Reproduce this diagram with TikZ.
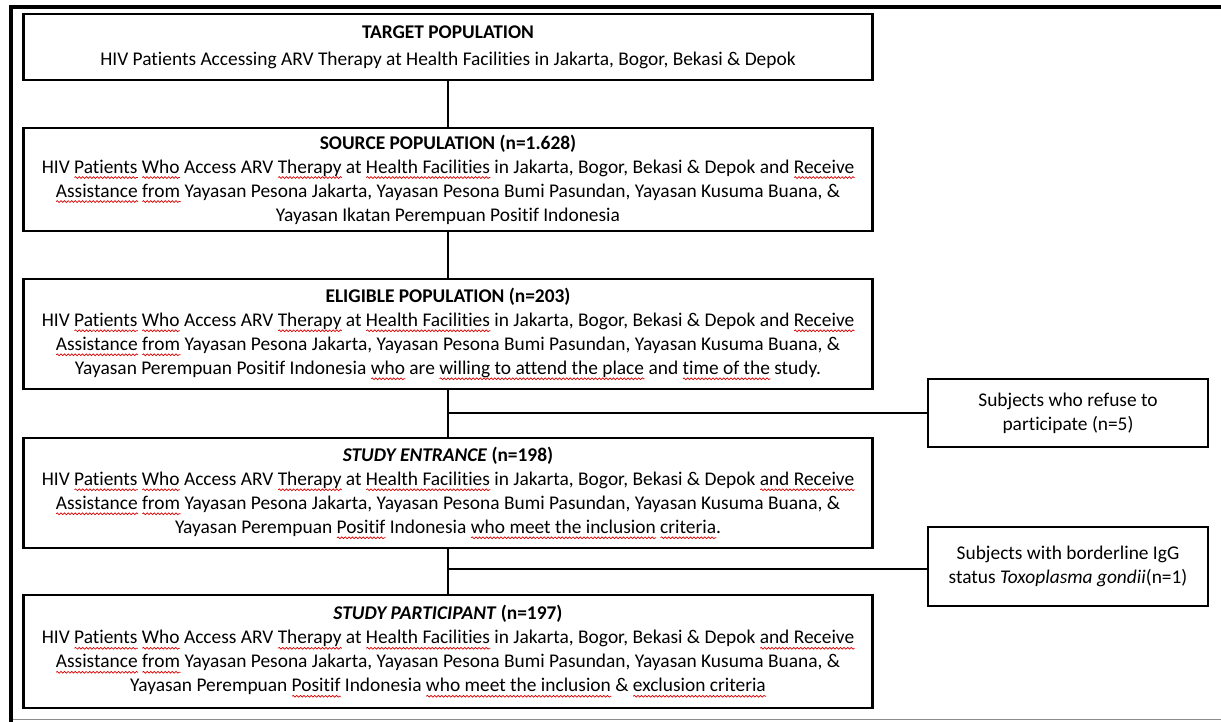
\documentclass[tikz,border=0pt]{standalone}
\usepackage{fontspec}
\setmainfont{Carlito}[Ligatures=NoCommon]
\usetikzlibrary{decorations.pathmorphing}
\newsavebox\sqbox
\newlength\sqlen
\newcommand\sq[1]{\sbox\sqbox{#1}\setlength\sqlen{\wd\sqbox}%
  \rlap{\tikz[baseline=0pt,x=1pt,y=1pt]{\draw[red!85!black, line width=0.35pt, decorate,
     decoration={snake, amplitude=0.45pt, segment length=1.8pt}] (0,-2.2) -- (\sqlen,-2.2);}}%
  \usebox\sqbox}
\tikzset{
  mainbox/.style={draw, line width=1.3pt, minimum width=424.5pt, align=center, inner sep=0pt},
  sidebox/.style={draw, line width=1.3pt, minimum width=140pt, align=center, inner sep=0pt},
  link/.style={line width=1pt},
  every node/.style={font=\fontsize{9.7}{12}\selectfont}
}
\begin{document}
\begin{tikzpicture}[x=0.5pt,y=-0.5pt]
\useasboundingbox (0,0) rectangle (1221,722);
% page frame
\draw[line width=2pt] (11,722) |- (1221,7);
\draw[black!45, line width=0.6pt] (13,719.5) -- (1221,719.5);

\node[mainbox, minimum height=33pt] (target) at (448,47)
  {\textbf{TARGET POPULATION}\\[1.5pt]
   HIV Patients Accessing ARV Therapy at Health Facilities in Jakarta, Bogor, Bekasi \& Depok};

\node[mainbox, minimum height=51.5pt] (source) at (448,179.5)
  {\textbf{SOURCE POPULATION (n=1.628)}\\
   HIV \sq{Patients} \sq{Who} Access ARV \sq{Therapy} at \sq{Health Facilities} in Jakarta, Bogor, Bekasi \& Depok and \sq{Receive}\\
   \sq{Assistance} \sq{from} Yayasan Pesona Jakarta, Yayasan Pesona Bumi Pasundan, Yayasan Kusuma Buana, \&\\
   Yayasan Ikatan Perempuan Positif Indonesia};

\node[mainbox, minimum height=55pt] (eligible) at (448,334)
  {\textbf{ELIGIBLE POPULATION (n=203)}\\
   HIV \sq{Patients} \sq{Who} Access ARV \sq{Therapy} at \sq{Health Facilities} in Jakarta, Bogor, Bekasi \& Depok and \sq{Receive}\\
   \sq{Assistance} \sq{from} Yayasan Pesona Jakarta, Yayasan Pesona Bumi Pasundan, Yayasan Kusuma Buana, \&\\
   Yayasan Perempuan Positif Indonesia \sq{who} are \sq{willing to attend the place} and \sq{time of the} study.};

\node[mainbox, minimum height=55pt] (entrance) at (448,493)
  {\textbf{\textit{STUDY ENTRANCE} (n=198)}\\
   HIV \sq{Patients} \sq{Who} Access ARV \sq{Therapy} at \sq{Health Facilities} in Jakarta, Bogor, Bekasi \& Depok \sq{and Receive}\\
   \sq{Assistance} \sq{from} Yayasan Pesona Jakarta, Yayasan Pesona Bumi Pasundan, Yayasan Kusuma Buana, \&\\
   Yayasan Perempuan \sq{Positif} Indonesia \sq{who meet the inclusion} \sq{criteria}.};

\node[mainbox, minimum height=56.5pt] (participant) at (448,651.5)
  {\textbf{\textit{STUDY PARTICIPANT} (n=197)}\\
   HIV \sq{Patients} \sq{Who} Access ARV \sq{Therapy} at \sq{Health Facilities} in Jakarta, Bogor, Bekasi \& Depok \sq{and Receive}\\
   \sq{Assistance} \sq{from} Yayasan Pesona Jakarta, Yayasan Pesona Bumi Pasundan, Yayasan Kusuma Buana, \&\\
   Yayasan Perempuan \sq{Positif} Indonesia \sq{who meet the inclusion} \& \sq{exclusion criteria}};

\node[sidebox, minimum height=34pt] (refuse) at (1068,413)
  {Subjects who refuse to\\ participate (n=5)};
\node[sidebox, minimum height=39.5pt] (borderline) at (1068,566.5)
  {Subjects with borderline IgG\\ status \textit{Toxoplasma gondii}(n=1)};

\coordinate (j1) at (448,413);
\coordinate (j2) at (448,569);

\draw[link] (target) -- (source);
\draw[link] (source) -- (eligible);
\draw[link] (eligible) -- (entrance);
\draw[link] (entrance) -- (participant);
\draw[link] (j1) -- (refuse.west);
\draw[link] (j2) -- (j2 -| borderline.west);
\end{tikzpicture}
\end{document}
